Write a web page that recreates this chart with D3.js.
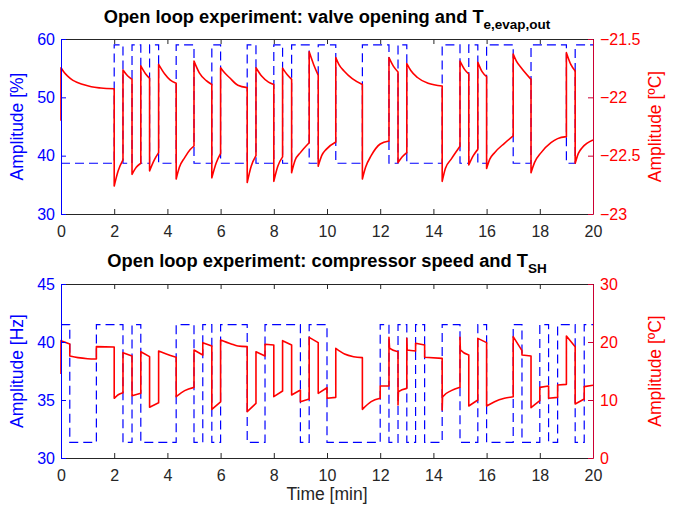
<!DOCTYPE html>
<html>
<head>
<meta charset="utf-8">
<script src="https://cdn.jsdelivr.net/npm/d3@7"></script>
<style>
  body { margin: 0; background: #fff; }
  text { font-family: "Liberation Sans", Arial, Helvetica, sans-serif; }
</style>
</head>
<body>
<svg id="chart" width="680" height="512"></svg>
<script>
/********** the Data **********/
// x ticks (time, min)
let timeTicks = [0, 2, 4, 6, 8, 10, 12, 14, 16, 18, 20];

// valve opening [%], step signal: switch times and level after each switch
let valveTimes = [0, 2, 2.33, 2.67, 3, 3.33, 3.67, 4.33, 5, 5.67, 6, 7, 7.33, 8, 8.33, 8.67,
  9.33, 9.67, 10.33, 11.33, 12.33, 12.67, 13, 14.33, 15, 15.33, 15.67, 16, 17, 17.67, 19, 19.33, 20];
let valveLevels = [38.7, 59, 38.7, 59, 38.7, 59, 38.7, 59, 38.7, 59, 38.7, 59, 38.7, 59, 38.7, 59,
  38.7, 59, 38.7, 59, 38.7, 59, 38.7, 59, 38.7, 59, 38.7, 59, 38.7, 59, 38.7, 59, 59];

// T_e,evap,out [degC]; a repeated time is a step
let teTimes = [0, 0, 0.13, 0.26, 0.45, 0.64, 0.9, 1.14, 1.5, 2,
  2, 2.15, 2.33, 2.33, 2.5, 2.67, 2.67, 2.83, 3, 3, 3.17, 3.33, 3.33, 3.5, 3.67,
  3.67, 3.9, 4.1, 4.33, 4.33, 4.45, 4.65, 4.85, 5, 5, 5.2, 5.45, 5.67, 5.67, 5.83, 6,
  6, 6.15, 6.33, 6.65, 7, 7, 7.15, 7.33, 7.33, 7.55, 7.8, 8, 8, 8.15, 8.33, 8.33, 8.5, 8.67,
  8.67, 8.8, 9, 9.33, 9.33, 9.5, 9.67, 9.67, 9.8, 9.97, 10.33,
  10.33, 10.45, 10.64, 10.95, 11.33, 11.33, 11.45, 11.66, 12, 12.33, 12.33, 12.5, 12.67,
  12.67, 12.83, 13, 13, 13.15, 13.4, 13.8, 14.33, 14.33, 14.45, 14.67, 15,
  15, 15.17, 15.33, 15.33, 15.5, 15.67, 15.67, 15.83, 16, 16, 16.12, 16.3, 16.67, 17,
  17, 17.12, 17.3, 17.67, 17.67, 17.8, 18.05, 18.42, 18.67, 19,
  19, 19.17, 19.33, 19.33, 19.45, 19.6, 20];
let teValues = [-22.20, -21.746, -21.79, -21.82, -21.855, -21.874, -21.895, -21.91, -21.92, -21.926,
  -22.76, -22.63, -22.537, -21.766, -21.815, -21.846, -22.66, -22.60, -22.565, -21.73, -21.795, -21.837, -22.63, -22.54, -22.474,
  -21.717, -21.80, -21.85, -21.88, -22.70, -22.60, -22.517, -22.45, -22.417, -21.69, -21.79, -21.855, -21.89, -22.69, -22.565, -22.48,
  -21.746, -21.79, -21.83, -21.897, -21.917, -22.73, -22.59, -22.50, -21.746, -21.82, -21.87, -21.89, -22.72, -22.59, -22.51, -21.75, -21.805, -21.846,
  -22.646, -22.54, -22.474, -22.389, -21.61, -21.72, -21.81, -22.59, -22.50, -22.446, -22.383,
  -21.66, -21.72, -21.774, -21.84, -21.89, -22.70, -22.60, -22.50, -22.40, -22.374, -21.66, -21.735, -21.783,
  -22.56, -22.51, -22.474, -21.71, -21.77, -21.83, -21.88, -21.903, -22.72, -22.61, -22.53, -22.42,
  -21.69, -21.76, -21.80, -22.58, -22.50, -22.446, -21.70, -21.78, -21.823, -22.61, -22.53, -22.474, -22.394, -22.33,
  -21.63, -21.69, -21.746, -21.846, -22.646, -22.56, -22.474, -22.389, -22.354, -22.337,
  -21.617, -21.72, -21.774, -22.565, -22.48, -22.43, -22.366];

// compressor speed [Hz], step signal
let compTimes = [0, 0.33, 1.33, 2.33, 2.67, 3, 4.33, 5, 5.33, 5.67, 6, 7, 7.67, 9, 9.33, 10,
  12, 12.33, 12.67, 13, 13.33, 13.67, 14.33, 15, 15.67, 16, 17, 17.33, 18, 18.33, 18.67, 19.33, 19.67, 20];
let compLevels = [41.5, 31.35, 41.5, 31.35, 41.5, 31.35, 41.5, 31.35, 41.5, 31.35, 41.5, 31.35, 41.5, 31.35, 41.5, 31.35,
  41.5, 31.35, 41.5, 31.35, 41.5, 31.35, 41.5, 31.35, 41.5, 31.35, 41.5, 31.35, 41.5, 31.35, 41.5, 31.35, 41.5, 41.5];

// T_SH [degC]; a repeated time is a step
let shTimes = [0, 0, 0.33, 0.33, 0.64, 1, 1.33, 1.33, 2, 2, 2.15, 2.33, 2.33, 2.67, 2.67, 3,
  3, 3.33, 3.33, 3.67, 3.67, 3.96, 4.33, 4.33, 4.65, 5, 5, 5.33, 5.33, 5.67, 5.67, 6,
  6, 6.4, 6.65, 7, 7, 7.33, 7.33, 7.67, 7.67, 8, 8, 8.33, 8.33, 8.67, 8.67, 9, 9, 9.33,
  9.33, 9.67, 9.67, 10, 10, 10.33, 10.33, 10.66, 11, 11.33, 11.33, 11.66, 12, 12, 12.33,
  12.33, 12.36, 12.67, 12.67, 12.69, 13, 13, 13.02, 13.33, 13.33, 13.67, 13.67, 14.33,
  14.33, 14.35, 14.67, 15, 15, 15.02, 15.33, 15.33, 15.67, 15.67, 16, 16, 16.3, 16.67, 17,
  17, 17.33, 17.33, 17.67, 17.67, 18, 18, 18.33, 18.33, 18.67, 18.67, 19, 19, 19.33,
  19.33, 19.67, 19.67, 20];
let shValues = [14.48, 20.23, 19.66, 17.59, 17.30, 17.12, 17.07, 19.20, 19.14, 10.29, 10.9, 11.26, 18.16, 17.59, 10.75, 11.15,
  18.33, 17.47, 8.74, 9.54, 18.45, 17.93, 17.36, 10.57, 11.61, 12.18, 18.62, 17.76, 19.89, 19.31, 8.39, 9.66,
  20.34, 19.66, 19.31, 19.20, 7.99, 9.43, 18.33, 17.59, 19.60, 19.48, 10.57, 11.55, 20.23, 19.48, 10.86, 11.72, 9.71, 10.17,
  20.80, 19.89, 11.15, 12.12, 10.29, 10.46, 18.91, 17.93, 17.47, 17.30, 8.39, 9.71, 10.29, 12.41, 12.41,
  20.80, 18.91, 18.33, 9.14, 11.44, 12.01, 20.63, 18.62, 18.45, 19.77, 19.48, 17.36, 17.18,
  8.28, 10.57, 11.61, 12.18, 20.80, 18.62, 17.76, 8.97, 10.0, 20.63, 19.89, 8.97, 9.71, 10.29, 10.57,
  20.92, 18.51, 17.76, 17.59, 8.68, 9.89, 12.18, 12.41, 10.29, 10.46, 12.59, 12.70, 21.03, 19.20,
  9.31, 10.17, 12.30, 12.53];


/********** drawPanel function **********/
let svg = d3.select("#chart");
let margin = {left: 61, right: 87};
let plotRight = 680 - margin.right;   // 593
let tickFont = "16px", labelFont = "17.5px", titleFont = "18.3px";

let xScale = d3.scaleLinear().domain([0, 20]).range([margin.left, plotRight]);

// split a series into runs wherever a time repeats (vertical step)
function runs(ts, vs) {
  let out = [], cur = [];
  ts.forEach((t, i) => {
    if (i > 0 && t === ts[i - 1]) { out.push(cur); cur = []; }
    cur.push([t, vs[i]]);
  });
  out.push(cur);
  return out;
}

function drawPanel(p) {
  let yL = d3.scaleLinear().domain(p.leftDomain).range([p.bottom, p.top]);
  let yR = d3.scaleLinear().domain(p.rightDomain).range([p.bottom, p.top]);
  let g = svg.append("g");

  // step signal (dashed blue)
  let stepLine = d3.line()
    .x((d, i) => xScale(p.stepT[i]))
    .y(d => yL(d))
    .curve(d3.curveStepAfter);
  g.append("path")
    .attr("d", stepLine(p.stepV))
    .attr("fill", "none")
    .attr("stroke", "#0000ff")
    .attr("stroke-width", 1.2)
    .attr("stroke-dasharray", "9,5");

  // response (solid red)
  let gen = d3.line().x(d => xScale(d[0])).y(d => yR(d[1])).curve(d3.curveMonotoneX);
  let dStr = runs(p.respT, p.respV).map((r, i) => {
    let s = gen(r).replace(/Z$/, "");
    return i ? "L" + s.slice(1) : s;
  }).join("");
  g.append("path")
    .attr("d", dStr)
    .attr("fill", "none")
    .attr("stroke", "#ff0000")
    .attr("stroke-width", 1.6)
    .attr("stroke-linejoin", "round");

  /* axes: MATLAB style, ticks inside */
  let xb = g.append("g")
    .attr("transform", `translate(0, ${p.bottom})`)
    .call(d3.axisBottom(xScale).tickValues(timeTicks).tickSizeInner(-5).tickSizeOuter(0).tickPadding(12));
  let xt = g.append("g")
    .attr("transform", `translate(0, ${p.top})`)
    .call(d3.axisTop(xScale).tickValues(timeTicks).tickSizeInner(-5).tickSizeOuter(0).tickFormat(""));
  [xb, xt].forEach(a => {
    a.selectAll("path, line").attr("stroke", "#262626");
    a.selectAll("text").attr("fill", "#262626").style("font-size", tickFont);
  });

  let yl = g.append("g")
    .attr("transform", `translate(${margin.left}, 0)`)
    .call(d3.axisLeft(yL).tickValues(p.leftTicks).tickSizeInner(-5).tickSizeOuter(0).tickPadding(6));
  yl.selectAll("path, line").attr("stroke", "#0000ff");
  yl.selectAll("text").attr("fill", "#0000ff").style("font-size", tickFont);

  let yr = g.append("g")
    .attr("transform", `translate(${plotRight}, 0)`)
    .call(d3.axisRight(yR).tickValues(p.rightTicks).tickSizeInner(-5).tickSizeOuter(0).tickPadding(7)
      .tickFormat(d3.format("")));
  yr.selectAll("path, line").attr("stroke", "#cc0033");
  yr.selectAll("text").attr("fill", "#ff0000").style("font-size", tickFont);
  g.selectAll(".domain").attr("stroke-width", 1);

  // axis labels
  let midY = (p.top + p.bottom) / 2;
  g.append("text")
    .attr("transform", `translate(23, ${midY}) rotate(-90)`)
    .attr("text-anchor", "middle")
    .attr("fill", "#0000ff")
    .style("font-size", labelFont)
    .text(p.leftLabel);
  g.append("text")
    .attr("transform", `translate(661, ${midY}) rotate(-90)`)
    .attr("text-anchor", "middle")
    .attr("fill", "#ff0000")
    .style("font-size", labelFont)
    .text(p.rightLabel);

  // title with subscript
  let t = g.append("text")
    .attr("x", (margin.left + plotRight) / 2)
    .attr("y", p.titleY)
    .attr("text-anchor", "middle")
    .attr("fill", "#000")
    .style("font-size", titleFont)
    .style("font-weight", "bold");
  t.append("tspan").text(p.title);
  t.append("tspan").attr("dy", 6).style("font-size", "13.5px").text(p.titleSub);
}

drawPanel({
  top: 39, bottom: 214, titleY: 23,
  leftDomain: [30, 60], rightDomain: [-23, -21.5],
  leftTicks: [30, 40, 50, 60], rightTicks: [-23, -22.5, -22, -21.5],
  stepT: valveTimes, stepV: valveLevels, respT: teTimes, respV: teValues,
  leftLabel: "Amplitude [%]", rightLabel: "Amplitude [ºC]",
  title: "Open loop experiment: valve opening and T", titleSub: "e,evap,out"
});

drawPanel({
  top: 284, bottom: 458, titleY: 267,
  leftDomain: [30, 45], rightDomain: [0, 30],
  leftTicks: [30, 35, 40, 45], rightTicks: [0, 10, 20, 30],
  stepT: compTimes, stepV: compLevels, respT: shTimes, respV: shValues,
  leftLabel: "Amplitude [Hz]", rightLabel: "Amplitude [ºC]",
  title: "Open loop experiment: compressor speed and T", titleSub: "SH"
});

// x-axis label under the lower panel
svg.append("text")
  .attr("x", (margin.left + plotRight) / 2)
  .attr("y", 500)
  .attr("text-anchor", "middle")
  .attr("fill", "#262626")
  .style("font-size", labelFont)
  .text("Time [min]");
</script>
</body>
</html>
